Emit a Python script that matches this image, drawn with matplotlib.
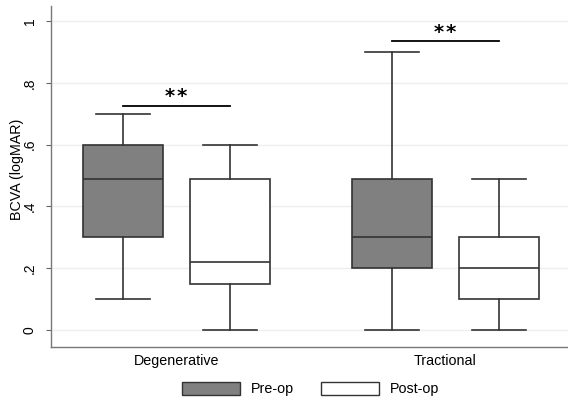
import numpy as np
import matplotlib.pyplot as plt
from matplotlib.patches import Patch

plt.rcParams['font.family'] = ['Liberation Sans', 'DejaVu Sans']

# данные: BCVA (logMAR) по группам
groups = ['Degenerative', 'Tractional']
series = ['Pre-op', 'Post-op']
# [нижний ус, Q1, медиана, Q3, верхний ус]
pre_op = [[0.10, 0.30, 0.49, 0.60, 0.70],
          [0.00, 0.20, 0.30, 0.49, 0.90]]
post_op = [[0.00, 0.15, 0.22, 0.49, 0.60],
           [0.00, 0.10, 0.20, 0.30, 0.49]]
signif = ['**', '**']
sig_level = [0.726, 0.934]
yticks = [0, 0.2, 0.4, 0.6, 0.8, 1.0]
ytick_labels = ['0', '.2', '.4', '.6', '.8', '1']

# раскладка (в пикселях исходной картинки)
centers = [176.5, 445.5]
offset = 53.5
box_w = 80
cap_w = 54
colors = ['#808080', '#ffffff']
edge = '#333333'

fig = plt.figure(figsize=(5.68, 4.04), dpi=100)
ax = fig.add_axes([51 / 568, 1 - 347 / 404, 517 / 568, 341 / 404])

for i, (name, data) in enumerate(zip(series, [pre_op, post_op])):
    stats = []
    for g in range(len(groups)):
        lo, q1, med, q3, hi = data[g]
        stats.append(dict(whislo=lo, q1=q1, med=med, q3=q3, whishi=hi, fliers=[]))
    pos = [c + (2 * i - 1) * offset for c in centers]
    ax.bxp(stats, positions=pos, widths=box_w, capwidths=cap_w, patch_artist=True,
           showfliers=False, manage_ticks=False,
           boxprops=dict(facecolor=colors[i], edgecolor=edge, linewidth=1.2),
           medianprops=dict(color=edge, linewidth=1.2),
           whiskerprops=dict(color=edge, linewidth=1.2),
           capprops=dict(color=edge, linewidth=1.2))

# значимость
for c, s, y in zip(centers, signif, sig_level):
    ax.plot([c - offset, c + offset], [y, y], color='black', lw=1.3)
    ax.text(c, y - 0.002, '\u200a'.join(s), ha='center', va='bottom', fontsize=14,
            fontweight='bold', family='DejaVu Sans')

ax.set_xlim(51, 568)
ax.set_ylim(-17 / 309, 1 + 15 / 309)
ax.set_yticks(yticks)
ax.set_yticklabels(ytick_labels, rotation=90, va='center', fontsize=10)
ax.set_xticks(centers)
ax.set_xticklabels(groups, fontsize=10.3)
ax.tick_params(axis='x', length=0, pad=5)
ax.tick_params(axis='y', length=3.6, pad=6.5, color='#666666', width=0.8)
ax.yaxis.grid(True, color='#eaf0f2', lw=1)
ax.set_axisbelow(True)
for sp in ['top', 'right']:
    ax.spines[sp].set_visible(False)
for sp in ['left', 'bottom']:
    ax.spines[sp].set_color('#777777')
    ax.spines[sp].set_linewidth(1.0)

ax.set_ylabel('BCVA (logMAR)', fontsize=10.3)
ax.yaxis.set_label_coords(-0.052, 0.52)

handles = [Patch(facecolor=colors[k], edgecolor=edge, linewidth=1.0, label=series[k])
           for k in range(2)]
fig.legend(handles=handles, loc='center', bbox_to_anchor=(311 / 568, 1 - 389 / 404),
           ncol=2, frameon=False, fontsize=10.3, handlelength=4.0, handleheight=1.0,
           handletextpad=0.8, columnspacing=1.9)

fig.savefig('out.png', dpi=100)
